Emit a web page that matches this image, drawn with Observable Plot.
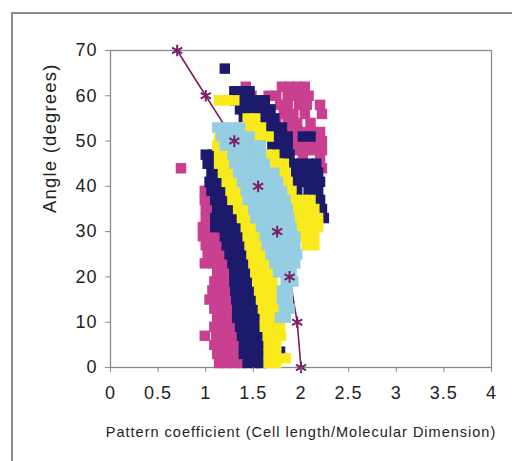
<!DOCTYPE html>
<html>
<head>
<meta charset="utf-8">
<script src="https://cdn.jsdelivr.net/npm/d3@7"></script>
<script src="https://cdn.jsdelivr.net/npm/@observablehq/plot@0.6"></script>
<style>
  html, body { margin: 0; padding: 0; background: white; }
  #wrap { position: relative; width: 512px; height: 461px; overflow: hidden; }
  #outer { position: absolute; left: 11px; top: 12px; width: 540px; height: 480px;
           border-left: 2px solid #8c8c8c; border-top: 2px solid #8c8c8c; pointer-events: none; z-index: 2; }
  g[aria-label="x-axis tick label"] text, g[aria-label="y-axis tick label"] text { letter-spacing: 1px; }
</style>
</head>
<body>
<div id="wrap"><div id="outer"></div></div>
<script>
// ---- data (angle rows: [angle, [pattern coefficients]]) ----
const xTicks = [0, 0.5, 1, 1.5, 2, 2.5, 3, 3.5, 4];
const yTicks = [0, 10, 20, 30, 40, 50, 60, 70];

const pinkRows = [
  [1, [1.14, 1.22, 1.30, 1.38]],
  [3, [1.12, 1.20, 1.28, 1.36]],
  [5, [1.09, 1.17, 1.25, 1.33]],
  [7, [0.99, 1.11, 1.19, 1.27, 1.33]],
  [9, [1.09, 1.17, 1.25, 1.31]],
  [11, [1.12, 1.20, 1.27]],
  [13, [1.09, 1.17, 1.25, 1.30]],
  [15, [1.04, 1.12, 1.20, 1.27]],
  [17, [1.07, 1.15, 1.23, 1.28]],
  [19, [1.09, 1.17, 1.25]],
  [21, [1.12, 1.20, 1.28]],
  [23, [0.99, 1.07, 1.15, 1.23, 1.28]],
  [25, [1.02, 1.10, 1.18, 1.25]],
  [27, [1.00, 1.08, 1.16, 1.21]],
  [29, [0.97, 1.05, 1.13, 1.17]],
  [31, [0.97, 1.05, 1.12]],
  [33, [1.00, 1.08, 1.12]],
  [35, [1.00, 1.08]],
  [37, [0.99, 1.07]],
  [39, [0.99]],
  [44, [0.74]],
  [62, [1.42, 1.80, 1.88, 1.96, 2.04]],
  [60, [1.48, 1.66, 1.74, 1.86, 1.94, 2.02, 2.08]],
  [58, [1.78, 1.86, 1.98, 2.06, 2.20]],
  [56, [1.82, 1.92, 2.04, 2.22]],
  [54, [1.74, 1.86, 1.96, 2.10]],
  [52, [1.86, 1.94, 2.04, 2.12, 2.20]],
  [50, [1.90, 1.98, 2.06, 2.14, 2.22]],
  [48, [1.96, 2.04, 2.14, 2.22]],
  [46, [2.02, 2.20]],
  [44, [2.06, 2.22]],
  [42, [2.10]],
  [40, [2.14]]
];

const navyRows = [
  [1, [1.44, 1.52, 1.58]],
  [3, [1.40, 1.48, 1.56, 1.62]],
  [3.5, [1.78]],
  [5, [1.40, 1.48, 1.56, 1.62]],
  [7, [1.38, 1.46, 1.54, 1.61]],
  [9, [1.36, 1.44, 1.52, 1.60]],
  [11, [1.33, 1.41, 1.49, 1.57]],
  [13, [1.33, 1.41, 1.49, 1.57]],
  [15, [1.32, 1.40, 1.48, 1.55]],
  [17, [1.31, 1.39, 1.47, 1.54]],
  [19, [1.30, 1.38, 1.46, 1.52]],
  [21, [1.30, 1.38, 1.46, 1.50]],
  [23, [1.28, 1.36, 1.44, 1.48]],
  [25, [1.25, 1.33, 1.41, 1.46]],
  [27, [1.22, 1.30, 1.38, 1.44]],
  [29, [1.20, 1.28, 1.36, 1.42]],
  [31, [1.10, 1.18, 1.26, 1.34, 1.40]],
  [33, [1.10, 1.18, 1.26, 1.34]],
  [35, [1.12, 1.20, 1.28, 1.32]],
  [37, [1.10, 1.18, 1.26]],
  [39, [1.06, 1.14, 1.22]],
  [41, [1.04, 1.12, 1.18]],
  [43, [1.06, 1.14]],
  [45, [1.02, 1.10]],
  [47, [1.00, 1.08]],
  [66, [1.20]],
  [61, [1.30, 1.38, 1.46]],
  [59, [1.30, 1.38, 1.46, 1.54, 1.62]],
  [57, [1.36, 1.44, 1.52, 1.60, 1.68]],
  [55, [1.40, 1.48, 1.56, 1.64, 1.72]],
  [53, [1.56, 1.64, 1.72, 1.80]],
  [51, [1.70, 1.78, 1.86, 2.02, 2.10]],
  [49, [1.70, 1.78, 1.86]],
  [47, [1.80, 1.88]],
  [45, [1.84, 1.92, 2.00, 2.08, 2.16]],
  [43, [1.86, 1.94, 2.02, 2.10, 2.18]],
  [41, [1.92, 2.00, 2.08, 2.16, 2.20]],
  [39, [1.96, 2.08, 2.18]],
  [37, [2.04, 2.20]],
  [35, [1.98, 2.22]],
  [33, [2.00, 2.24]],
  [31, [2.06]]
];

const yellowRows = [
  [1, [1.66, 1.74]],
  [2, [1.84]],
  [3, [1.66, 1.74]],
  [5, [1.66, 1.74]],
  [7, [1.65, 1.73, 1.79]],
  [9, [1.62, 1.70, 1.78]],
  [11, [1.62, 1.70, 1.78]],
  [13, [1.60, 1.68, 1.76]],
  [15, [1.58, 1.66, 1.74]],
  [17, [1.56, 1.64, 1.72]],
  [19, [1.54, 1.62, 1.70]],
  [21, [1.52, 1.60, 1.68]],
  [23, [1.50, 1.58, 1.66]],
  [25, [1.48, 1.56, 1.62]],
  [27, [1.46, 1.54, 1.60]],
  [29, [1.44, 1.52, 1.58]],
  [31, [1.42, 1.50]],
  [33, [1.38, 1.46]],
  [35, [1.34, 1.42]],
  [37, [1.28, 1.36]],
  [39, [1.26, 1.34]],
  [41, [1.22, 1.30]],
  [43, [1.18, 1.26]],
  [45, [1.14, 1.22]],
  [47, [1.14, 1.22, 1.64, 1.72]],
  [49, [1.12]],
  [51, [1.14, 1.50, 1.58, 1.66]],
  [53, [1.34, 1.42, 1.50, 1.58]],
  [55, [1.44, 1.52]],
  [59, [1.14, 1.22, 1.30]],
  [45, [1.68, 1.76, 1.82]],
  [43, [1.76, 1.84]],
  [41, [1.80, 1.86]],
  [39, [1.82, 1.90]],
  [37, [1.86, 1.94, 2.02, 2.10]],
  [35, [1.90, 1.98, 2.06, 2.14]],
  [33, [1.94, 2.02, 2.10, 2.18]],
  [31, [1.96, 2.04, 2.12, 2.18]],
  [29, [1.98, 2.06, 2.14]],
  [27, [2.06, 2.14]]
];

const blueRows = [
  [53, [1.12, 1.20, 1.28, 1.36]],
  [51, [1.16, 1.24, 1.32, 1.40, 1.46]],
  [49, [1.20, 1.28, 1.36, 1.44, 1.52, 1.58]],
  [47, [1.28, 1.36, 1.44, 1.52, 1.58]],
  [45, [1.30, 1.38, 1.46, 1.54, 1.62]],
  [43, [1.34, 1.42, 1.50, 1.58, 1.66, 1.72]],
  [41, [1.38, 1.46, 1.54, 1.62, 1.70, 1.76]],
  [39, [1.42, 1.50, 1.58, 1.66, 1.74, 1.80]],
  [37, [1.44, 1.52, 1.60, 1.68, 1.76, 1.84]],
  [35, [1.50, 1.58, 1.66, 1.74, 1.82, 1.86]],
  [33, [1.52, 1.60, 1.68, 1.76, 1.84, 1.88]],
  [31, [1.58, 1.66, 1.74, 1.82, 1.90]],
  [29, [1.62, 1.70, 1.78, 1.86, 1.94]],
  [27, [1.64, 1.72, 1.80, 1.88, 1.94]],
  [25, [1.68, 1.76, 1.84, 1.92, 1.96]],
  [23, [1.72, 1.80, 1.88, 1.94]],
  [21, [1.76, 1.84, 1.90]],
  [19, [1.84, 1.92]],
  [17, [1.80, 1.86]],
  [15, [1.80, 1.86]],
  [13, [1.82, 1.88]],
  [11, [1.78, 1.84]]
];

const curveX = [0.7, 1.0, 1.3, 1.55, 1.75, 1.88, 1.96, 2.0];
const curveY = [70, 60, 50, 40, 30, 20, 10, 0];

const xTitle = "Pattern coefficient (Cell length/Molecular Dimension)";
const yTitle = "Angle (degrees)";

// ---- build ----
const toPts = rows => rows.flatMap(([y, xs]) => xs.map(x => ({x, y})));
const pink = toPts(pinkRows), navy = toPts(navyRows), yellow = toPts(yellowRows), blue = toPts(blueRows);
const curve = curveX.map((x, i) => ({x, y: curveY[i]}));

const sq = (data, fill) => Plot.dot(data, {x: "x", y: "y", symbol: "square", r: 5.9, fill, stroke: "none"});
const font = "'Liberation Sans', Arial, sans-serif";

const chart = Plot.plot({
  width: 512, height: 461,
  marginLeft: 110, marginRight: 21, marginTop: 50, marginBottom: 94,
  style: {fontFamily: font, color: "#222", background: "white"},
  x: {domain: [0, 4]},
  y: {domain: [0, 70]},
  marks: [
    Plot.frame({stroke: "#8a8a8a", strokeWidth: 1.3}),
    Plot.line(curve, {x: "x", y: "y", stroke: "#7a1f63", strokeWidth: 1.6}),
    sq(pink, "#c8408f"),
    sq(navy, "#1c1a6b"),
    sq(yellow, "#f8ea1c"),
    sq(blue, "#95cde2"),
    Plot.dot(curve, {x: "x", y: "y", symbol: "asterisk", r: 5.5, stroke: "#7a1f63", strokeWidth: 2}),
    Plot.axisX({ticks: xTicks, tickFormat: d => String(d), tickSize: 5, tickPadding: 14, fontSize: 18, stroke: "#8a8a8a", label: null}),
    Plot.axisY({ticks: yTicks, tickFormat: d => String(d), tickSize: 5, tickPadding: 8, fontSize: 18, stroke: "#8a8a8a", label: null}),
    Plot.text([xTitle], {text: d => d, frameAnchor: "bottom", dy: 69, fontSize: 14.5, fill: "#222"}),
    Plot.text([yTitle], {text: d => d, frameAnchor: "left", rotate: -90, dx: -60, dy: 4, fontSize: 18.5, fill: "#222"})
  ]
});
document.getElementById("wrap").appendChild(chart);
chart.querySelectorAll('g[aria-label="text"] text').forEach(t => {
  if (t.textContent === xTitle) t.style.letterSpacing = "1px";
  if (t.textContent === yTitle) t.style.letterSpacing = "1.2px";
});
</script>
</body>
</html>
